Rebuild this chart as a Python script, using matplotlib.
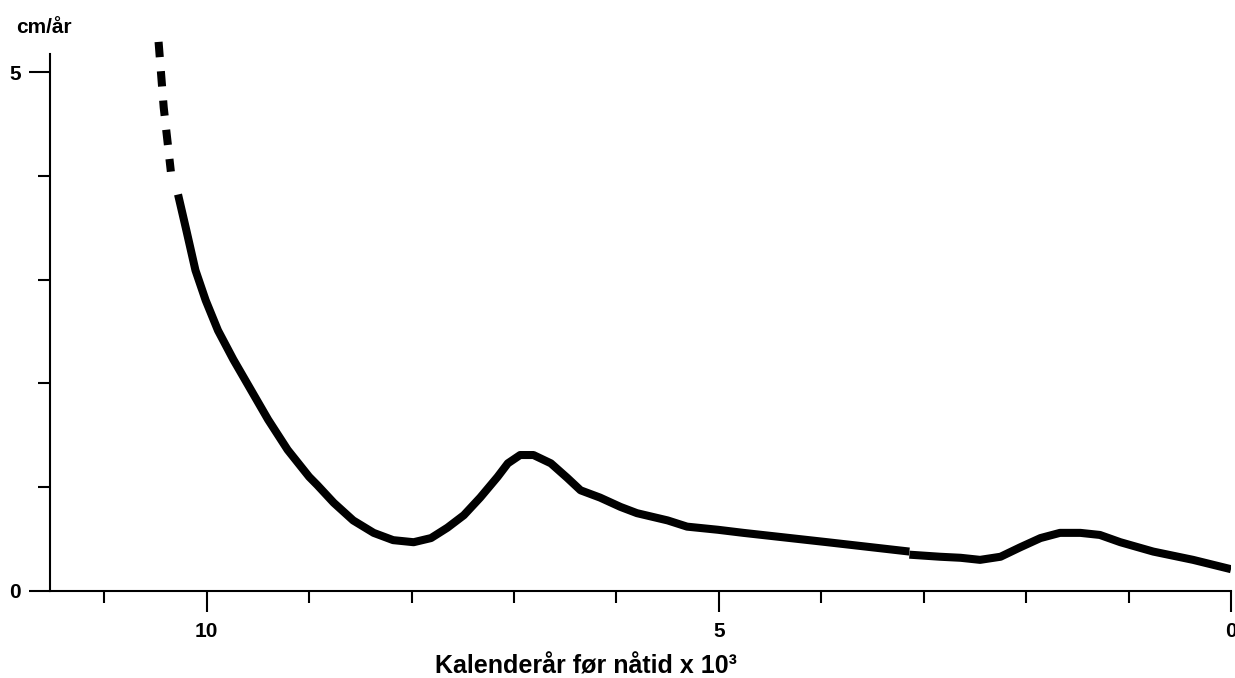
import matplotlib
matplotlib.use("Agg")
import matplotlib.pyplot as plt
from matplotlib.ticker import FixedLocator

plt.rcParams['font.family'] = ['Liberation Sans', 'DejaVu Sans']
plt.rcParams['font.weight'] = 'bold'

# Data (x in 10^3 calendar years before present, y in cm/yr)
dash_x = [10.47, 10.42, 10.35]
dash_y = [5.29, 4.66, 4.04]

solid1_x = [10.28, 10.20, 10.11, 10.01, 9.89, 9.74, 9.57, 9.40, 9.21, 9.00,
            8.92, 8.76, 8.57, 8.37, 8.18, 7.98, 7.81, 7.65, 7.49, 7.33, 7.16,
            7.06, 6.94, 6.81, 6.64, 6.48, 6.35, 6.16, 5.96, 5.80, 5.50, 5.31,
            5.01, 4.76, 3.94, 3.14]
solid1_y = [3.82, 3.48, 3.09, 2.80, 2.51, 2.23, 1.94, 1.65, 1.36, 1.10,
            1.02, 0.85, 0.68, 0.56, 0.49, 0.47, 0.51, 0.61, 0.73, 0.90, 1.10,
            1.23, 1.31, 1.31, 1.23, 1.09, 0.97, 0.90, 0.81, 0.75, 0.68, 0.62,
            0.59, 0.56, 0.47, 0.38]

solid2_x = [3.14, 2.84, 2.64, 2.45, 2.25, 2.06, 1.86, 1.67, 1.47, 1.28, 1.08,
            0.76, 0.37, 0.0]
solid2_y = [0.35, 0.33, 0.32, 0.30, 0.33, 0.42, 0.51, 0.56, 0.56, 0.54, 0.47,
            0.38, 0.30, 0.21]

y_major = [0, 5]
y_minor = [1, 2, 3, 4]
x_major = [10, 5, 0]
x_minor = [11, 9, 8, 7, 6, 4, 3, 2, 1]

W, H = 1235, 678
fig = plt.figure(figsize=(W / 100, H / 100), dpi=100)
left_px, right_px = 50, 1231
bottom_px = 591
ytop = 5.4
ppu_y = 103.8
top_px = bottom_px - ytop * ppu_y
ax = fig.add_axes([left_px / W, 1 - bottom_px / H, (right_px - left_px) / W,
                   (bottom_px - top_px) / H])

lw = 5.8
ax.plot(dash_x, dash_y, color='black', lw=lw, linestyle=(0, (1.9, 1.75)),
        dash_capstyle='butt')
ax.plot(solid1_x, solid1_y, color='black', lw=lw, solid_capstyle='butt',
        solid_joinstyle='round')
ax.plot(solid2_x, solid2_y, color='black', lw=lw, solid_capstyle='butt',
        solid_joinstyle='round')

ax.set_xlim(11.53, 0)
ax.set_ylim(0, ytop)

for s in ['top', 'right']:
    ax.spines[s].set_visible(False)
for s in ['left', 'bottom']:
    ax.spines[s].set_linewidth(1.5)
ax.spines['left'].set_bounds(0, 5.17)

ax.xaxis.set_major_locator(FixedLocator(x_major))
ax.xaxis.set_minor_locator(FixedLocator(x_minor))
ax.yaxis.set_major_locator(FixedLocator(y_major))
ax.yaxis.set_minor_locator(FixedLocator(y_minor))
ax.set_xticklabels([str(v) for v in x_major])
ax.set_yticklabels([str(v) for v in y_major])

ax.tick_params(axis='both', which='major', direction='out', length=15, width=1.5,
               labelsize=15)
ax.tick_params(axis='both', which='minor', direction='out', length=8.5, width=1.5)
ax.tick_params(axis='x', which='major', pad=7)
ax.tick_params(axis='y', which='major', pad=6)
for lab in ax.get_xticklabels() + ax.get_yticklabels():
    lab.set_fontweight('bold')

fig.text(16 / W, 1 - 33 / H, 'cm/år', fontsize=15, fontweight='bold',
         ha='left', va='baseline')
fig.text(435 / W, 1 - 673 / H, 'Kalenderår før nåtid x 10³', fontsize=18,
         fontweight='bold', ha='left', va='baseline')

fig.savefig('out.png', dpi=100)
